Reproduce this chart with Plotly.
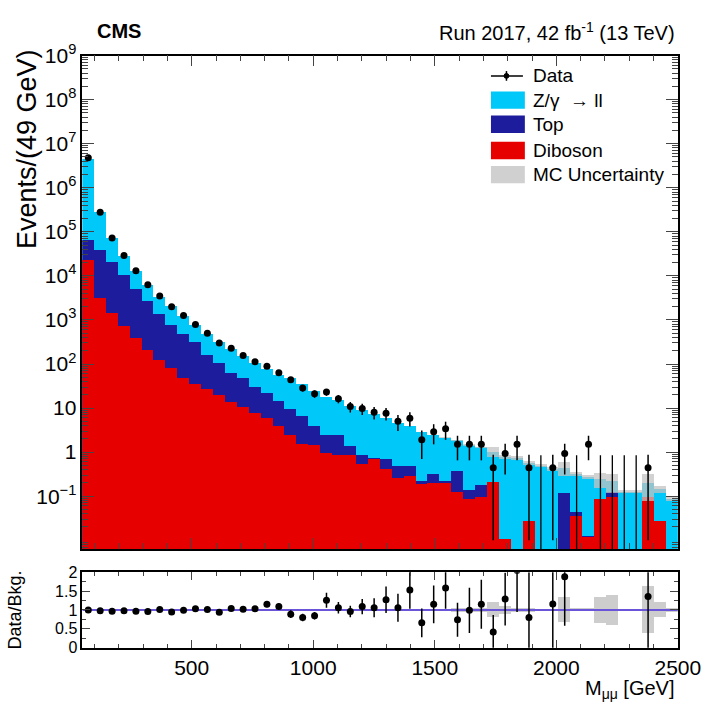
import plotly.graph_objects as go

# ---------------- data ----------------
bin_low = 50.0
bin_width = 49.0
n_bins = 50

diboson = [2.3e4, 3.2e3, 1.5e3, 760, 390, 215, 128, 83, 50, 36,
           27, 20, 14, 11, 8, 6, 4, 2.5, 1.6, 1.5,
           1.0, 0.9, 0.9, 0.55, 0.7, 0.42, 0.27, 0.3, 0.19, 0.2,
           0.2, 0.13, 0.09, 0.1, 0.21, 0.011, 0, 0.028, 0, 0,
           0, 0.036, 0.012, 0.09, 0.1, 0, 0, 0.1, 0.028, 0]
top = [4.3e4, 3.68e4, 1.95e4, 9740, 4710, 2485, 1262, 707, 450, 280,
       138, 90, 50, 37, 22, 16, 11, 7.0, 5.2, 2.6,
       1.5, 1.6, 0.5, 0.35, 0.06, 0.28, 0.23, 0.2, 0.04, 0.13,
       0.03, 0.26, 0.05, 0.08, 0, 0, 0, 0, 0, 0,
       0.12, 0.009, 0.001, 0, 0.03, 0, 0, 0, 0, 0]
zll = [4.53e6, 2.45e5, 5.3e4, 1.9e4, 8300, 3800, 2060, 1310, 770, 454,
       330, 210, 156, 104, 80, 55, 43, 39.5, 29.2, 20.9,
       15.5, 12.9, 9.8, 8.1, 6.74, 5.3, 4.2, 3.4, 2.67, 2.17,
       1.92, 1.51, 1.36, 1.12, 0.84, 0.79, 0.75, 0.54, 0.5, 0.42,
       0.33, 0.285, 0.267, 0.16, 0.09, 0.13, 0.13, 0.1, 0.12, 0.09]
mc_unc = [0, 0, 0, 0, 0, 0, 0, 0, 0, 0,
          0, 0, 0, 0, 0, 0, 0, 0, 0, 0,
          0, 0, 0, 0, 0, 0, 0, 0, 0.05, 0.05,
          0.05, 0.06, 0.06, 0.06, 0.25, 0.1, 0.08, 0.06, 0.04, 0.04,
          0.15, 0.03, 0.03, 0.09, 0.1, 0.01, 0.01, 0.12, 0.03, 0.01]

data = [4.8e6, 2.8e5, 7.2e4, 2.9e4, 1.3e4, 6.3e3, 3.5e3, 2.0e3, 1.26e3, 790,
        500, 300, 228, 155, 113, 89, 63, 44, 28.5, 21,
        23, 16.3, 10.8, 9.8, 8.0, 7.6, 5.0, 5.9, 1.9, 2.9,
        3.4, 1.5, 1.5, 1.5, 0.44, 0.93, 1.5, 0.44, 0, 0.44,
        0.93, 0, 1.5, 0, 0, 0, 0, 0.44, None, None]
data_err = [0, 0, 0, 0, 0, 0, 0, 0, 0, 0,
            0, 0, 0, 0, 0, 9, 8, 6, 5, 4,
            4, 3.5, 2.9, 2.8, 2.5, 2.4, 2.0, 2.1, 1.2, 1.4,
            1.5, 0.85, 0.85, 0.85, 0.43, 0.62, 0.85, 0.43, 0.85, 0.43,
            0.62, 0.85, 0.85, 0.85, 0.85, 0.85, 0.85, 0.43, None, None]

ratio = [1.0, 0.98, 0.97, 0.98, 0.97, 0.96, 1.01, 0.95, 0.99, 1.03,
         1.01, 0.94, 1.04, 1.02, 1.03, 1.15, 1.09, 0.89, 0.80, 0.85,
         1.26, 1.06, 0.96, 1.09, 1.06, 1.27, 1.06, 1.53, 0.66, 1.15,
         1.58, 0.74, 0.99, 1.15, 0.42, 1.29, 2.05, 0.80, None, 1.16,
         1.88, None, None, None, None, None, None, 1.36, None, None]
ratio_err = [0.005, 0.01, 0.01, 0.01, 0.01, 0.01, 0.02, 0.02, 0.02, 0.03,
             0.03, 0.04, 0.05, 0.05, 0.06, 0.08, 0.08, 0.1, 0.1, 0.1,
             0.2, 0.15, 0.15, 0.2, 0.25, 0.35, 0.37, 0.5, 0.38, 0.5,
             0.55, 0.45, 0.6, 0.65, 0.45, 0.7, 1.1, 1.2, None, 1.2,
             1.3, None, None, None, None, None, None, 1.4, None, None]
ratio_unc = [0.02] * 31 + [0.05, 0.05, 0.05, 0.2, 0.1, 0.05, 0.05, 0.03, 0.03,
                           0.33, 0.04, 0.04, 0.35, 0.4, 0.03, 0.03, 0.62, 0.2, 0.05]

y_tickvals = [1e-1, 1, 10, 1e2, 1e3, 1e4, 1e5, 1e6, 1e7, 1e8, 1e9]
y_ticktext = ["10<sup>\u22121</sup>", "1", "10", "10<sup>2</sup>", "10<sup>3</sup>",
              "10<sup>4</sup>", "10<sup>5</sup>", "10<sup>6</sup>", "10<sup>7</sup>",
              "10<sup>8</sup>", "10<sup>9</sup>"]
x_tickvals = [500, 1000, 1500, 2000, 2500]
r_tickvals = [0, 0.5, 1, 1.5, 2]
r_ticktext = ["0", "0.5", "1", "1.5", "2"]

C_ZLL = "#00c8f8"
C_TOP = "#1c1c9c"
C_DIB = "#e60000"
C_UNC = "rgba(195,195,195,0.75)"

# ---------------- derived ----------------
centers = [bin_low + bin_width * (i + 0.5) for i in range(n_bins)]
s_dib = list(diboson)
s_top = [d + t for d, t in zip(diboson, top)]
s_tot = [d + t + z for d, t, z in zip(diboson, top, zll)]

W, H = 727, 708
L, R, T_, B_ = 85, 700, 43, 553
RT, RB = 577, 655
FONT = "Liberation Sans, Arial, Helvetica, sans-serif"

def fx(px):
    return px / W

def fy(py):
    return 1 - py / H

fig = go.Figure()

fig.add_trace(go.Bar(x=centers, y=s_tot, width=bin_width, marker=dict(color=C_ZLL, line_width=0),
                     xaxis="x", yaxis="y", showlegend=False))
fig.add_trace(go.Bar(x=centers, y=s_top, width=bin_width, marker=dict(color=C_TOP, line_width=0),
                     xaxis="x", yaxis="y", showlegend=False))
fig.add_trace(go.Bar(x=centers, y=s_dib, width=bin_width, marker=dict(color=C_DIB, line_width=0),
                     xaxis="x", yaxis="y", showlegend=False))
ux, ub, uh = [], [], []
for c, t, u in zip(centers, s_tot, mc_unc):
    if u > 0:
        ux.append(c)
        ub.append(max(t - u, 1e-4))
        uh.append(t + u - max(t - u, 1e-4))
fig.add_trace(go.Bar(x=ux, y=uh, base=ub, width=bin_width, marker=dict(color=C_UNC, line_width=0),
                     xaxis="x", yaxis="y", showlegend=False))

dx, dy, de_up, de_dn = [], [], [], []
zx, zy = [], []
for c, v, e in zip(centers, data, data_err):
    if v is None:
        continue
    if v > 0:
        dx.append(c); dy.append(v); de_up.append(e); de_dn.append(min(e, v * 0.999))
    else:
        zx += [c, c, None]; zy += [1e-3, e, None]
fig.add_trace(go.Scatter(x=zx, y=zy, mode="lines", line=dict(color="black", width=1.3),
                         xaxis="x", yaxis="y", showlegend=False))
fig.add_trace(go.Scatter(x=dx, y=dy, mode="markers",
                         marker=dict(color="black", size=7),
                         error_y=dict(type="data", array=de_up, arrayminus=de_dn, color="black",
                                      thickness=1.5, width=0),
                         xaxis="x", yaxis="y", showlegend=False))

fig.add_trace(go.Bar(x=centers, y=[2 * u for u in ratio_unc], base=[1 - u for u in ratio_unc],
                     width=bin_width, marker=dict(color="rgba(200,200,200,0.9)", line_width=0),
                     xaxis="x2", yaxis="y2", showlegend=False))
fig.add_trace(go.Scatter(x=[bin_low, bin_low + n_bins * bin_width], y=[1, 1], mode="lines",
                         line=dict(color="#6a55d8", width=2), xaxis="x2", yaxis="y2", showlegend=False))
rx, ry, re = [], [], []
for c, v, e in zip(centers, ratio, ratio_err):
    if v is not None:
        rx.append(c); ry.append(v); re.append(e)
fig.add_trace(go.Scatter(x=rx, y=ry, mode="markers", marker=dict(color="black", size=7),
                         error_y=dict(type="data", array=re, color="black", thickness=1.5, width=0),
                         xaxis="x2", yaxis="y2", showlegend=False))

xrange = [bin_low, bin_low + n_bins * bin_width]
minor_log = [m * 10 ** e for e in range(-3, 9) for m in range(2, 10)]

axis_common = dict(showline=True, linecolor="black", linewidth=1.5, mirror="allticks",
                   ticks="inside", showgrid=False, zeroline=False)

fig.update_layout(
    width=W, height=H, margin=dict(l=0, r=0, t=0, b=0),
    paper_bgcolor="white", plot_bgcolor="white",
    barmode="overlay", bargap=0,
    font=dict(family=FONT, color="black"),
    xaxis=dict(domain=[fx(L), fx(R)], anchor="y", range=xrange, tickvals=x_tickvals,
               showticklabels=False, ticklen=11,
               minor=dict(ticks="inside", ticklen=6, dtick=100, tick0=0, showgrid=False),
               **axis_common),
    yaxis=dict(domain=[fy(B_), fy(T_)], anchor="x", type="log", range=[-2.2, 9.0],
               tickvals=y_tickvals, ticktext=y_ticktext, ticklen=12,
               tickfont=dict(family=FONT, size=21, color="black"),
               minor=dict(ticks="inside", ticklen=6, tickvals=minor_log, showgrid=False),
               **axis_common),
    xaxis2=dict(domain=[fx(L), fx(R)], anchor="y2", range=xrange, tickvals=x_tickvals,
                ticklen=8, matches="x",
                tickfont=dict(family=FONT, size=21, color="black"),
                minor=dict(ticks="inside", ticklen=4, dtick=100, tick0=0, showgrid=False),
                **axis_common),
    yaxis2=dict(domain=[fy(RB), fy(RT)], anchor="x2", range=[0, 2],
                tickvals=r_tickvals, ticktext=r_ticktext, ticklen=8,
                tickfont=dict(family=FONT, size=16, color="black"),
                minor=dict(ticks="inside", ticklen=4, dtick=0.25, showgrid=False),
                **axis_common),
)

ann = []
ann.append(dict(text="<b>CMS</b>", x=fx(98), y=fy(18), xref="paper", yref="paper",
                showarrow=False, font=dict(family=FONT, size=20), xanchor="left", yanchor="middle"))
ann.append(dict(text="Run 2017, 42 fb<sup>-1</sup> (13 TeV)", x=fx(699), y=fy(18), xref="paper",
                yref="paper", showarrow=False, font=dict(family=FONT, size=20),
                xanchor="right", yanchor="middle"))
ann.append(dict(text="Events/(49 GeV)", x=fx(28), y=fy(34), xref="paper", yref="paper",
                showarrow=False, textangle=-90, font=dict(family=FONT, size=27),
                xanchor="center", yanchor="top"))
ann.append(dict(text="Data/Bkg.", x=fx(15), y=fy(616), xref="paper", yref="paper",
                showarrow=False, textangle=-90, font=dict(family=FONT, size=18),
                xanchor="center", yanchor="middle"))
ann.append(dict(text="M<sub>\u03bc\u03bc</sub> [GeV]", x=fx(699), y=fy(683), xref="paper",
                yref="paper", showarrow=False, font=dict(family=FONT, size=20),
                xanchor="right", yanchor="top"))

leg_items = [("Z/\u03b3  \u2192 ll", C_ZLL, 89), ("Top", C_TOP, 114),
             ("Diboson", C_DIB, 141), ("MC Uncertainty", "#d0d0d0", 166)]
shapes = []
shapes.append(dict(type="line", xref="paper", yref="paper", x0=fx(507), x1=fx(540),
                   y0=fy(64), y1=fy(64), line=dict(color="black", width=1.5)))
shapes.append(dict(type="circle", xref="paper", yref="paper", x0=fx(520.5), x1=fx(525.5),
                   y0=fy(66.5), y1=fy(61.5), fillcolor="black", line=dict(color="black", width=1)))
shapes.append(dict(type="line", xref="paper", yref="paper", x0=fx(523), x1=fx(523),
                   y0=fy(59), y1=fy(69), line=dict(color="black", width=1.5)))
ann.append(dict(text="Data", x=fx(548), y=fy(64), xref="paper", yref="paper", showarrow=False,
                font=dict(family=FONT, size=19), xanchor="left", yanchor="middle"))
for label, col, yc in leg_items:
    shapes.append(dict(type="rect", xref="paper", yref="paper", x0=fx(507), x1=fx(542),
                       y0=fy(yc - 9), y1=fy(yc + 9), fillcolor=col, line=dict(width=0)))
    ann.append(dict(text=label, x=fx(548), y=fy(yc), xref="paper", yref="paper", showarrow=False,
                    font=dict(family=FONT, size=19), xanchor="left", yanchor="middle"))

fig.update_layout(annotations=ann, shapes=shapes)
fig.write_html("out.html")
